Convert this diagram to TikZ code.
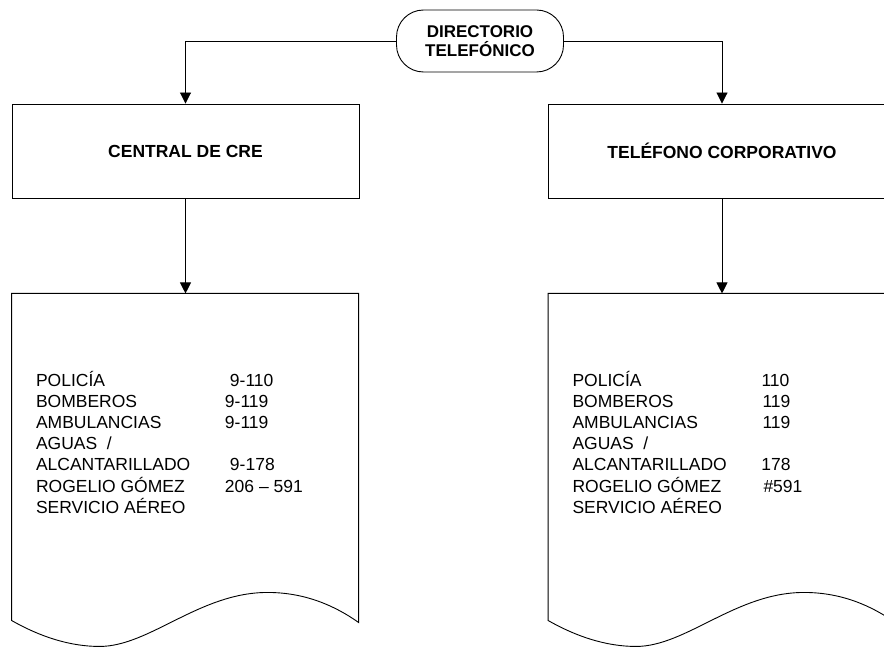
\documentclass[tikz,border=0pt]{standalone}
\usepackage{fontspec}
\setmainfont{Liberation Sans}
\usetikzlibrary{arrows.meta, positioning}

% outline of a flowchart document, hung from a named area node
\newcommand{\docoutline}[1]{%
  \draw[shift={(#1.north west)}] (0,0) -- (347,0) -- (347,329)
    .. controls (323,312) and (293,299) .. (256,299)
    .. controls (188,299) and (138,353) .. (88,353)
    .. controls (58,353) and (28,343) .. (0,327) -- cycle;}

\begin{document}
\begin{tikzpicture}[
        x=1pt, y=-1pt,
        line width=0.9pt,
        start/.style={draw, rounded corners=27pt, align=center, minimum width=167pt, minimum height=62pt, font=\bfseries\fontsize{17}{18.3}\selectfont},
        box/.style={draw, minimum width=347pt, minimum height=94pt, font=\bfseries\fontsize{17.5}{21}\selectfont},
        docarea/.style={minimum width=347pt, minimum height=329pt, inner sep=0pt},
        listtext/.style={inner sep=0pt, font=\fontsize{17.5}{21.2}\selectfont},
        line/.style={-{Triangle[length=11pt, width=11pt]}}
    ]
    \useasboundingbox (0,0) rectangle (884,647);
    \clip (0,0) rectangle (884,647);

    % Top: directory
    \node[start] (dir) at (480,41) {DIRECTORIO\\TELEFÓNICO};

    % Middle: the two sources
    \node[box] (central) at (185.5,151) {CENTRAL DE CRE};
    \node[box] (corp) at (722,151) {TELÉFONO CORPORATIVO};

    % Bottom: number lists
    \node[docarea, below=95pt of central] (crelist) {};
    \node[docarea, below=95pt of corp] (corplist) {};
    \docoutline{crelist}
    \docoutline{corplist}

    \node[listtext, below right=77pt and 24pt of crelist.north west] (cretext) {%
      \begin{tabular}{@{}p{189pt}@{}l@{}}
        POLICÍA & \hspace{5pt}9-110\\
        BOMBEROS & 9-119\\
        AMBULANCIAS & 9-119\\
        AGUAS\ \ / & \\
        ALCANTARILLADO & \hspace{5pt}9-178\\
        ROGELIO GÓMEZ & 206 – 591\\
        SERVICIO AÉREO &
      \end{tabular}};
    \node[listtext, below right=77pt and 24pt of corplist.north west] (corptext) {%
      \begin{tabular}{@{}p{189pt}@{}l@{}}
        POLICÍA & 110\\
        BOMBEROS & \hspace{1pt}119\\
        AMBULANCIAS & \hspace{1pt}119\\
        AGUAS\ \ / & \\
        ALCANTARILLADO & 178\\
        ROGELIO GÓMEZ & \hspace{2pt}\#591\\
        SERVICIO AÉREO &
      \end{tabular}};

    % Arrows
    \draw[line] (dir.west) -| (central.north);
    \draw[line] (dir.east) -| (corp.north);
    \draw[line] (central) -- (crelist);
    \draw[line] (corp) -- (corplist);

\end{tikzpicture}
\end{document}
